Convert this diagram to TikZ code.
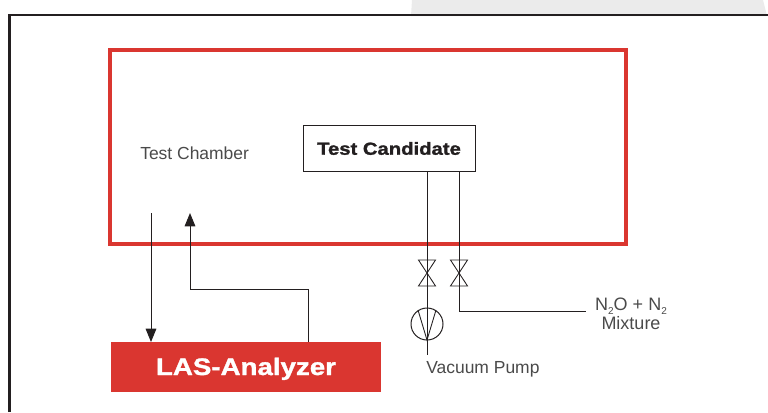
\documentclass[tikz,border=0pt]{standalone}
\usepackage{fontspec}
\setmainfont{Liberation Sans}
\newfontfamily\heavyfont[FakeStretch=1.16,FakeBold=1.4]{Liberation Sans Bold}
\usetikzlibrary{arrows.meta}
\definecolor{lasred}{HTML}{DA3630}
\definecolor{inkc}{HTML}{231F20}
\definecolor{txtc}{HTML}{4A4A4A}
\tikzset{
  x=0.75pt,y=-0.75pt,
  pipe/.style={draw=inkc,line width=0.75pt},
  sig/.style={pipe,-{Triangle[length=10pt,width=8pt]}},
  lbl/.style={text=txtc,font=\fontsize{13.1}{14}\selectfont,inner sep=0pt},
}
\newcommand{\valve}[1]{%
  \draw[pipe,line width=0.65pt] ([xshift=-6.4pt,yshift=9.75pt]#1) -- ([xshift=6.4pt,yshift=9.75pt]#1)
    -- ([xshift=-6.4pt,yshift=-9.75pt]#1) -- ([xshift=6.4pt,yshift=-9.75pt]#1) -- cycle;}
\begin{document}
\begin{tikzpicture}
\useasboundingbox (0,0) rectangle (768,412);
\fill[black!8] (411,16) -- (412,0) -- (763,0) -- (767,16) -- cycle;
\draw[inkc,line width=2.2pt] (9.5,412) -- (9.5,15) -- (768,15);
\node[draw=lasred,line width=3.2pt,minimum width=387pt,minimum height=145pt,inner sep=0pt,anchor=center] (chamber) at (368,147) {};
\node[lbl,anchor=west] (chamberlabel) at (140,153) {Test Chamber};
\node[draw=inkc,line width=0.75pt,fill=white,minimum width=129pt,minimum height=34pt,inner sep=0pt] (cand) at (389,148.5) {\heavyfont\fontsize{13.1}{14}\selectfont\textcolor{inkc}{Test Candidate}};
\node[fill=lasred,minimum width=202.5pt,minimum height=37.5pt,inner sep=0pt] (las) at (246,367) {};
\node[inner sep=0pt,anchor=base,text=white] (lastext) at (246,375) {\heavyfont\fontsize{17.9}{19}\selectfont LAS-Analyzer};
\coordinate (v1) at (427,273);
\coordinate (v2) at (459,273);
\coordinate (c1) at (427,171);
\coordinate (c2) at (459,171);
\coordinate (pumpend) at (427,355);
\coordinate (mixend) at (586,311);
\coordinate (mixcorner) at (459,311);
\coordinate (sample) at (151,213);
\coordinate (sampleend) at (151,342);
\coordinate (retstart) at (308,342);
\coordinate (rettip) at (190,213);
\node[draw=inkc,line width=0.75pt,circle,minimum size=24pt,inner sep=0pt] (pump) at (427,324) {};
\draw[pipe] (c1) -- (pumpend);
\draw[pipe] (c2) -- (mixcorner) -- (mixend);
\valve{v1}
\valve{v2}
\coordinate (pa) at (418,310);
\coordinate (pb) at (436,310);
\coordinate (pc) at (427,340);
\draw[pipe,line width=0.65pt] (pa) -- (pc) -- (pb);
\draw[sig] (sample) -- (sampleend);
\draw[sig] (retstart) -- (308,289) -- (190,289) -- (rettip);
\node[lbl,anchor=base west] (vac) at (426,373) {Vacuum Pump};
\node[lbl,anchor=base,font=\fontsize{13.5}{14}\selectfont] (n2o) at (631,310) {N\raisebox{-3pt}{\fontsize{7.5}{8}\selectfont 2}O + N\raisebox{-3pt}{\fontsize{7.5}{8}\selectfont 2}};
\node[lbl,anchor=base,font=\fontsize{13.5}{14}\selectfont] (mix) at (631,329) {Mixture};
\end{tikzpicture}
\end{document}
